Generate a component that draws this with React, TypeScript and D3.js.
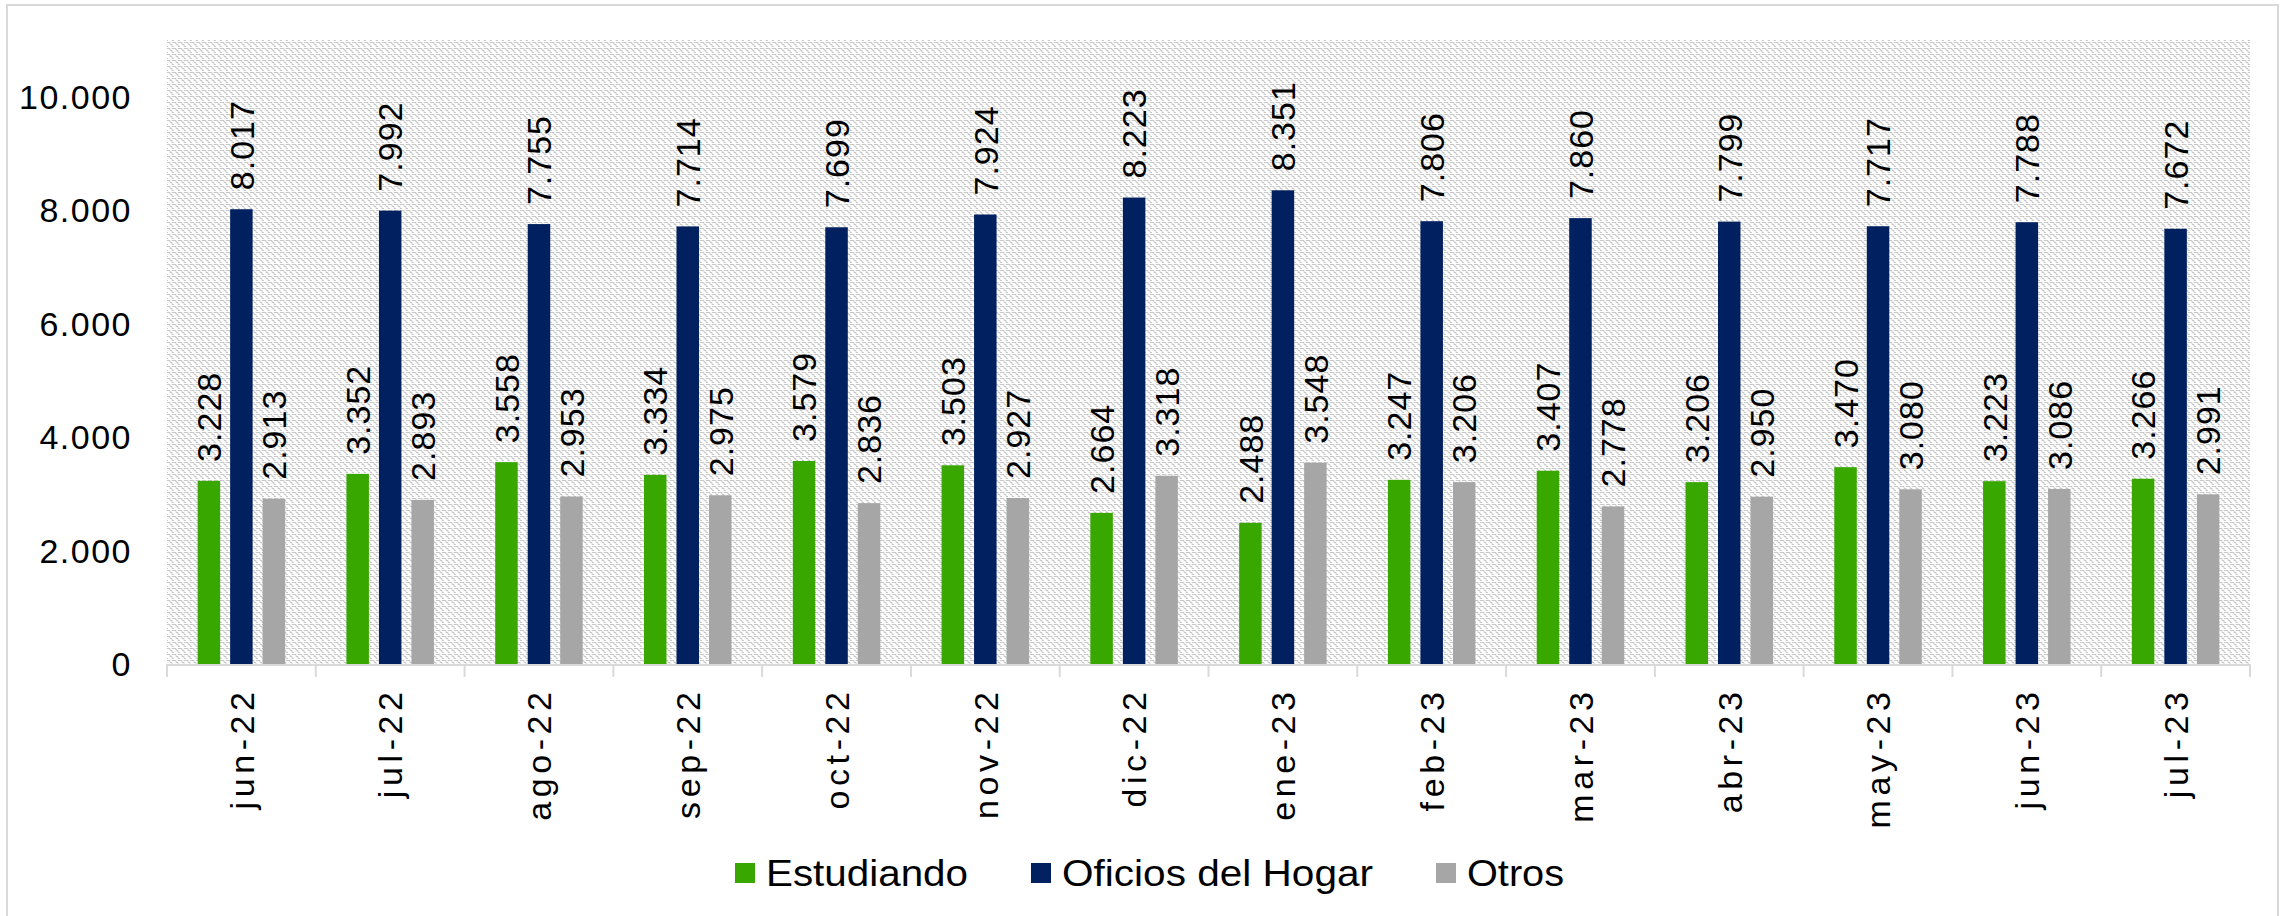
import React from "react";
import * as d3 from "d3";

const categories = ["jun-22","jul-22","ago-22","sep-22","oct-22","nov-22","dic-22","ene-23","feb-23","mar-23","abr-23","may-23","jun-23","jul-23"];
const estudiando = [3228,3352,3558,3334,3579,3503,2664,2488,3247,3407,3206,3470,3223,3266];
const oficiosHogar = [8017,7992,7755,7714,7699,7924,8223,8351,7806,7860,7799,7717,7788,7672];
const otros = [2913,2893,2953,2975,2836,2927,3318,3548,3206,2778,2950,3080,3086,2991];
const seriesNames = ["Estudiando","Oficios del Hogar","Otros"];
const yTicks = [0,2000,4000,6000,8000,10000];

const colors: Record<string,string> = {
  "Estudiando": "#38a800",
  "Oficios del Hogar": "#00205f",
  "Otros": "#a6a6a6",
};
const legendTextLen: Record<string,number> = {
  "Estudiando": 202,
  "Oficios del Hogar": 311,
  "Otros": 97,
};

const W = 2287, H = 916;
const plot = { left: 167, right: 2250, top: 40, bottom: 664 };
const FONT = "'Liberation Sans', Arial, sans-serif";

const fmt = (v: number) => d3.format(",")(v).replace(/,/g, ".");

export default function App() {
  const seriesValues = [estudiando, oficiosHogar, otros];
  const x = d3.scaleBand<string>().domain(categories).range([plot.left, plot.right]).padding(0);
  const y = d3.scaleLinear().domain([0, 11000]).range([plot.bottom, plot.top]);
  const groupW = 87.5;
  const xs = d3.scaleBand<string>().domain(seriesNames).range([-groupW / 2, groupW / 2]).paddingInner(0.3077).paddingOuter(0);
  const bw = xs.bandwidth();

  // legend layout
  const sq = 20, sqGap = 11, itemGap = 63;
  let lx = 735;
  const legendItems = seriesNames.map((s) => {
    const item = { s, sx: lx, tx: lx + sq + sqGap };
    lx = lx + sq + sqGap + legendTextLen[s] + itemGap;
    return item;
  });

  const xls = 4.6;

  return (
    <svg width={W} height={H} style={{ position: "fixed", left: 0, top: 0, background: "#fff" }} fontFamily={FONT}>
      <defs>
        <pattern id="bgpat" width="6" height="6" patternUnits="userSpaceOnUse">
          <rect width="6" height="6" fill="#ffffff" />
          <path d="M0,0.5 H2 V2.5 H4 V4.5 H6" fill="none" stroke="#c8c8c8" strokeWidth="1" />
          <path d="M4,-1.5 V0.5 H6" fill="none" stroke="#c8c8c8" strokeWidth="1" />
        </pattern>
      </defs>
      <rect x={0} y={0} width={W} height={H} fill="#fff" />
      <rect x={7} y={5} width={2271} height={H + 20} fill="#fff" stroke="#d9d9d9" strokeWidth={2} />
      <rect x={plot.left} y={plot.top} width={plot.right - plot.left} height={plot.bottom - plot.top} fill="url(#bgpat)" />

      {/* y axis labels */}
      {yTicks.map((t) => (
        <text key={t} x={132} y={y(t)} dy="0.36em" textAnchor="end" fontSize={34} letterSpacing={1.5} fill="#000">
          {fmt(t)}
        </text>
      ))}

      {/* bars */}
      {categories.map((c, i) => (
        <g key={c} transform={`translate(${(x(c) as number) + x.bandwidth() / 2},0)`}>
          {seriesNames.map((s, k) => {
            const v = seriesValues[k][i];
            const bx = xs(s) as number;
            return (
              <rect key={s} x={bx} y={y(v)} width={bw} height={y(0) - y(v)} fill={colors[s]} />
            );
          })}
          {seriesNames.map((s, k) => {
            const v = seriesValues[k][i];
            const cx = (xs(s) as number) + bw / 2;
            const ty = y(v) - 19;
            return (
              <text key={s + "l"} transform={`translate(${cx},${ty}) rotate(-90)`} dy="0.36em" textAnchor="start" fontSize={34} letterSpacing={1} fill="#000">
                {fmt(v)}
              </text>
            );
          })}
        </g>
      ))}

      {/* x axis */}
      <line x1={plot.left} x2={plot.right} y1={plot.bottom + 1} y2={plot.bottom + 1} stroke="#d9d9d9" strokeWidth={2} />
      {d3.range(categories.length + 1).map((i) => {
        const tx = plot.left + i * x.step();
        return <line key={"t" + i} x1={tx} x2={tx} y1={plot.bottom} y2={plot.bottom + 13} stroke="#d9d9d9" strokeWidth={2} />;
      })}
      {categories.map((c) => (
        <text key={c + "x"} transform={`translate(${(x(c) as number) + x.bandwidth() / 2},${692 - xls}) rotate(-90)`} dy="0.36em" textAnchor="end" fontSize={34} letterSpacing={xls} fill="#000">
          {c}
        </text>
      ))}

      {/* legend */}
      {legendItems.map((it) => (
        <g key={it.s}>
          <rect x={it.sx} y={863} width={sq} height={sq} fill={colors[it.s]} />
          <text x={it.tx} y={886} fontSize={36} textLength={legendTextLen[it.s]} lengthAdjust="spacingAndGlyphs" fill="#000">
            {it.s}
          </text>
        </g>
      ))}
    </svg>
  );
}
